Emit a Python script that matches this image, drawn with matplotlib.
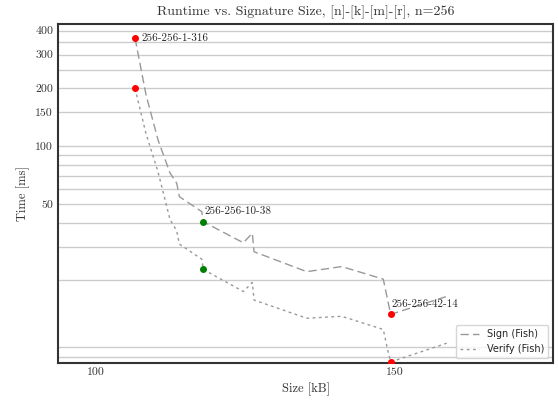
import matplotlib
matplotlib.use("Agg")
import matplotlib.pyplot as plt
import seaborn as sns

sns.set_style("whitegrid")
plt.rcParams['font.family'] = ['serif']
plt.rcParams['font.serif'] = ['cmr10', 'DejaVu Serif']
plt.rcParams['axes.formatter.use_mathtext'] = True

# signature size [kB] and runtimes [ms] for n=256, k=256, m varying
size_kb = [106.56, 108.40, 110.40, 112.40, 113.52, 113.96, 117.70, 117.96, 124.64,
           126.14, 126.43, 135.23, 141.07, 148.01, 148.85, 149.25, 158.60]
sign_ms = [365, 184.8, 107.7, 72.5, 64.1, 54.6, 45.6, 40.4, 31.4,
           35.2, 28.2, 22.2, 23.6, 20.3, 15.2, 13.3, 16.5]
verify_ms = [200, 115.8, 73.4, 41.5, 36.2, 30.9, 25.8, 22.8, 17.5,
             19.5, 15.8, 12.7, 13.0, 11.1, 8.37, 7.52, 9.41]

# highlighted parameter sets
mark_idx = [0, 7, 15]
mark_colors = ["red", "green", "red"]
mark_labels = ["256-256-1-316", "256-256-10-38", "256-256-42-14"]

ytick_vals = [50, 100, 150, 200, 300, 400]
ygrid_extra = [8, 9, 20, 30, 40, 60, 70, 80, 90, 250, 350]

fig = plt.figure(figsize=(5.58, 4.03), dpi=100)
ax = fig.add_axes([0.104, 0.1, 0.8876, 0.8404])

ax.plot(size_kb, sign_ms, color="#999999", linestyle=(0, (6, 3)), linewidth=1.0, label="Sign (Fish)")
ax.plot(size_kb, verify_ms, color="#999999", linestyle=(0, (2, 2.5)), linewidth=1.0, label="Verify (Fish)")

for i, c in zip(mark_idx, mark_colors):
    ax.plot(size_kb[i], sign_ms[i], "o", color=c, markersize=4, zorder=5)
    ax.plot(size_kb[i], verify_ms[i], "o", color=c, markersize=4, zorder=5)

ax.annotate(mark_labels[0], (size_kb[0], sign_ms[0]), xytext=(5, 0), textcoords="offset points",
            va="center", ha="left", fontsize=8)
for j in [1, 2]:
    i = mark_idx[j]
    ax.annotate(mark_labels[j], (size_kb[i], sign_ms[i]), xytext=(0.5, 7.5), textcoords="offset points",
                va="center", ha="left", fontsize=8)

ax.set_yscale("log")
ax.set_ylim(7.45, 433)
ax.set_xlim(93.7, 176.4)
ax.set_yticks(ytick_vals)
ax.set_yticklabels([str(v) for v in ytick_vals])
ax.set_yticks(ygrid_extra, minor=True)
ax.set_yticklabels([], minor=True)
ax.set_xticks([100, 150])
ax.set_xticklabels(["100", "150"])
ax.tick_params(axis="both", which="both", length=0, labelsize=8.5, colors="#333333")

ax.yaxis.grid(True, which="both", color="#cccccc", linewidth=1)
ax.xaxis.grid(False)
for s in ax.spines.values():
    s.set_color("#333333")
    s.set_linewidth(1.5)

ax.set_title("Runtime vs. Signature Size, [n]-[k]-[m]-[r], n=256", fontsize=10, color="#333333")
ax.set_xlabel("Size [kB]", fontsize=9, color="#333333")
ax.set_ylabel("Time [ms]", fontsize=9, color="#333333")

leg = ax.legend(loc="lower right", prop={"family": "DejaVu Sans", "size": 7}, frameon=True)
leg.get_frame().set_edgecolor("#cccccc")

fig.savefig("out.png", dpi=100)
